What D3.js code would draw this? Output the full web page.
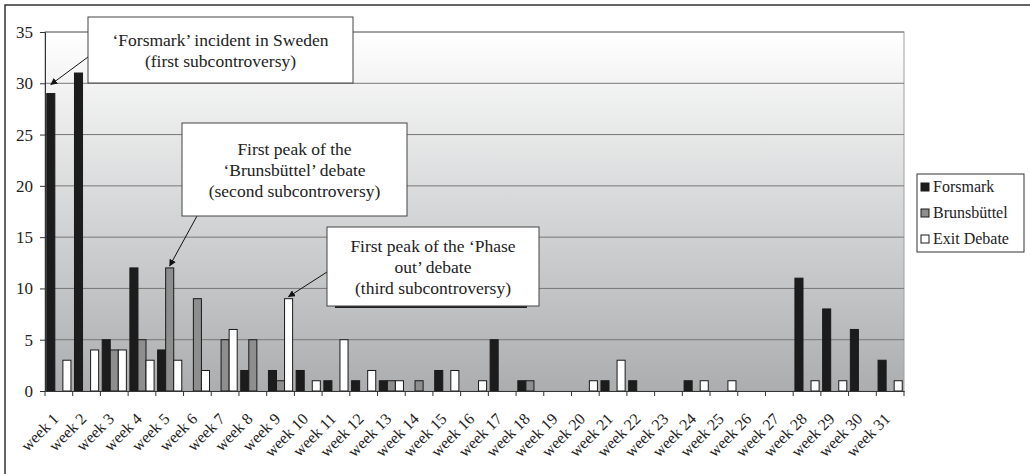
<!DOCTYPE html>
<html>
<head>
<meta charset="utf-8">
<script src="https://cdn.jsdelivr.net/npm/d3@7"></script>
<style>
  body { margin: 0; background: #fff; }
  svg text { font-family: "Liberation Serif", serif !important; fill: #222; }
</style>
</head>
<body>
<div id="chart"></div>
<script>
// data
const weeks = d3.range(1, 32).map(i => "week " + i);
const seriesNames = ["Forsmark", "Brunsbüttel", "Exit Debate"];
const forsmark    = [29,31,5,12,4,0,0,2,2,2,1,1,1,0,2,0,5,1,0,0,1,1,0,1,0,0,0,11,8,6,3];
const brunsbuettel= [0,0,4,5,12,9,5,5,1,0,0,0,1,1,0,0,0,1,0,0,0,0,0,0,0,0,0,0,0,0,0];
const exitDebate  = [3,4,4,3,3,2,6,0,9,1,5,2,1,0,2,1,0,0,0,1,3,0,0,1,1,0,0,1,1,0,1];
const yTicks = [0, 5, 10, 15, 20, 25, 30, 35];
const colors = ["#1c1c1c", "#8e8e8e", "#ffffff"];

const callouts = [
    { lines: ["‘Forsmark’ incident in Sweden", "(first subcontroversy)"], box: [88, 17, 265, 66], from: [88, 57], week: 0, series: 0, value: 29, gap: 9, shadow: false },
    { lines: ["First peak of the", "‘Brunsbüttel’ debate", "(second subcontroversy)"], box: [182, 123, 225, 93], from: [197, 216], week: 4, series: 1, value: 12, gap: 2, shadow: false },
    { lines: ["First peak of the ‘Phase", "out’ debate", "(third subcontroversy)"], box: [327, 227, 212, 79], from: [327, 272], week: 8, series: 2, value: 9, gap: 2, shadow: true }
];

const width = 1030, height = 474;
const plot = { left: 45, top: 32, right: 904, bottom: 391 };
const serif = "'Liberation Serif', serif";

const svg = d3.select("#chart").append("svg")
    .attr("width", width)
    .attr("height", height);

// outer frame
svg.append("rect")
    .attr("x", 5).attr("y", 5)
    .attr("width", 1030).attr("height", 480)
    .attr("fill", "none")
    .attr("stroke", "#333")
    .attr("stroke-width", 1.5);

const defs = svg.append("defs");
const grad = defs.append("linearGradient")
    .attr("id", "bg").attr("x1", 0).attr("y1", 0).attr("x2", 0).attr("y2", 1);
grad.append("stop").attr("offset", "0%").attr("stop-color", "#ffffff");
grad.append("stop").attr("offset", "100%").attr("stop-color", "#abadaf");

defs.append("marker")
    .attr("id", "arrow")
    .attr("viewBox", "0 0 10 10")
    .attr("refX", 9).attr("refY", 5)
    .attr("markerWidth", 7).attr("markerHeight", 7)
    .attr("orient", "auto")
    .append("path")
    .attr("d", "M0,0 L10,5 L0,10 z")
    .attr("fill", "#111");

const x = d3.scaleBand()
    .domain(weeks)
    .range([plot.left, plot.right]);

const xInner = d3.scaleBand()
    .domain(seriesNames)
    .range([0, x.bandwidth()])
    .paddingOuter(0.22);

const y = d3.scaleLinear()
    .domain([0, 35])
    .range([plot.bottom, plot.top]);

// plot background
svg.append("rect")
    .attr("x", plot.left).attr("y", plot.top)
    .attr("width", plot.right - plot.left)
    .attr("height", plot.bottom - plot.top)
    .attr("fill", "url(#bg)")
    .attr("stroke", "#a0a0a0");

// gridlines
svg.append("g")
    .selectAll("line")
    .data(yTicks.filter(t => t > 0))
    .join("line")
    .attr("x1", plot.left).attr("x2", plot.right)
    .attr("y1", d => y(d)).attr("y2", d => y(d))
    .attr("stroke", "#777")
    .attr("stroke-width", 1);

// bars
const series = [forsmark, brunsbuettel, exitDebate];
series.forEach((vals, si) => {
    svg.append("g")
        .selectAll("rect")
        .data(vals.map((v, i) => ({ week: weeks[i], v })).filter(d => d.v > 0))
        .join("rect")
        .attr("x", d => x(d.week) + xInner(seriesNames[si]))
        .attr("y", d => y(d.v))
        .attr("width", xInner.bandwidth())
        .attr("height", d => y(0) - y(d.v))
        .attr("fill", colors[si])
        .attr("stroke", "#1a1a1a")
        .attr("stroke-width", 1);
});

// y axis
const yAxis = svg.append("g")
    .attr("transform", `translate(${plot.left},0)`)
    .call(d3.axisLeft(y).tickValues(yTicks).tickSize(5).tickPadding(7));
yAxis.select(".domain").attr("stroke", "#333");
yAxis.selectAll(".tick line").attr("stroke", "#333");
yAxis.selectAll("text").style("font-size", "17px").style("font-family", serif).attr("fill", "#222");

// x axis
const xAxis = svg.append("g")
    .attr("transform", `translate(0,${plot.bottom})`)
    .call(d3.axisBottom(x).tickSize(0).tickFormat(""));
xAxis.select(".domain").attr("stroke", "#333");
xAxis.selectAll(".boundary")
    .data(d3.range(0, weeks.length + 1))
    .join("line")
    .attr("x1", i => plot.left + i * x.step())
    .attr("x2", i => plot.left + i * x.step())
    .attr("y1", 0).attr("y2", 5)
    .attr("stroke", "#333");

svg.append("g")
    .selectAll("text")
    .data(weeks)
    .join("text")
    .attr("transform", d => `translate(${x(d) + x.bandwidth() / 2 - 7},${plot.bottom + 21}) rotate(-45)`)
    .attr("text-anchor", "end")
    .attr("dy", "0.7em")
    .style("font-size", "16px")
    .style("font-family", serif)
    .text(d => d);

// legend
const legend = svg.append("g").attr("transform", "translate(917,174)");
legend.append("rect")
    .attr("width", 107).attr("height", 78)
    .attr("fill", "#fff")
    .attr("stroke", "#333");
seriesNames.forEach((name, i) => {
    legend.append("rect")
        .attr("x", 4).attr("y", 9 + i * 26)
        .attr("width", 8).attr("height", 8)
        .attr("fill", colors[i])
        .attr("stroke", "#1a1a1a");
    legend.append("text")
        .attr("x", 16).attr("y", 18 + i * 26)
        .style("font-size", "16px")
        .style("font-family", serif)
        .text(name);
});

// callouts
callouts.forEach(c => {
    const [bx, by, bw, bh] = c.box;
    const tx = x(weeks[c.week]) + xInner(seriesNames[c.series]) + xInner.bandwidth() / 2;
    const ty = y(c.value) - c.gap;
    svg.append("line")
        .attr("x1", c.from[0]).attr("y1", c.from[1])
        .attr("x2", tx).attr("y2", ty)
        .attr("stroke", "#111")
        .attr("stroke-width", 1)
        .attr("marker-end", "url(#arrow)");
    if (c.shadow) {
        svg.append("rect")
            .attr("x", bx + 8).attr("y", by + 3)
            .attr("width", bw - 20).attr("height", bh - 1)
            .attr("fill", "#222");
    }
    svg.append("rect")
        .attr("x", bx).attr("y", by)
        .attr("width", bw).attr("height", bh)
        .attr("fill", "#fff")
        .attr("stroke", "#444");
    const lineH = 21;
    const startY = by + bh / 2 - (c.lines.length - 1) * lineH / 2;
    c.lines.forEach((l, i) => {
        svg.append("text")
            .attr("x", bx + bw / 2)
            .attr("y", startY + i * lineH)
            .attr("dy", "0.35em")
            .attr("text-anchor", "middle")
            .style("font-size", "17.5px")
            .style("font-family", serif)
            .text(l);
    });
});
</script>
</body>
</html>
